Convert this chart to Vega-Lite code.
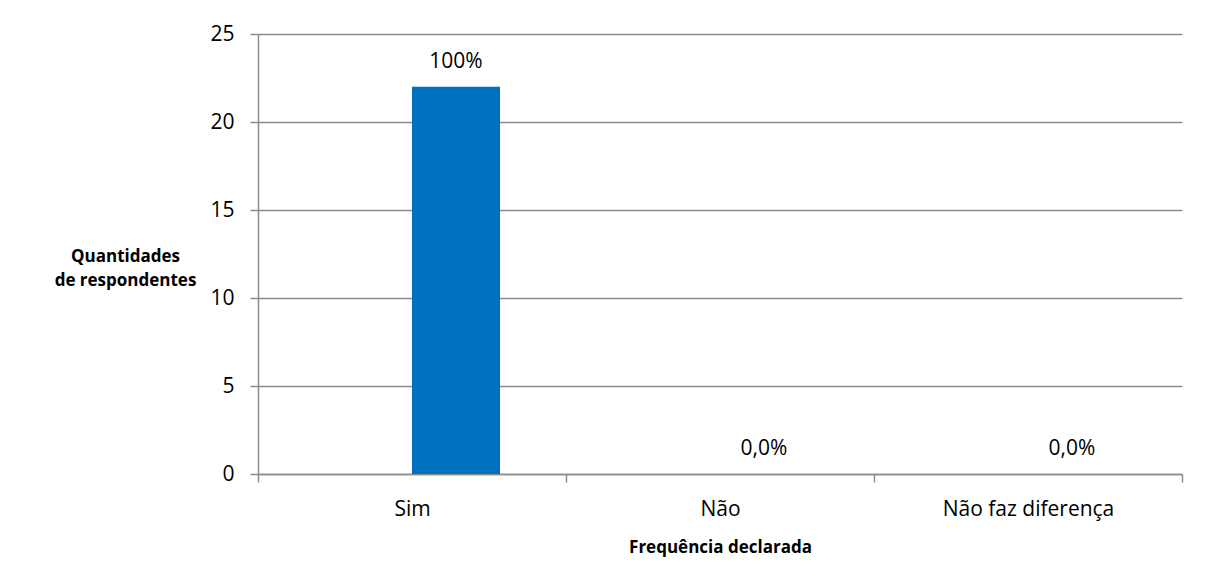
{
  "$schema": "https://vega.github.io/schema/vega-lite/v6.json",
  "width": 924,
  "height": 440,
  "autosize": "none",
  "padding": {"left": 258, "top": 34, "right": 28, "bottom": 110},
  "background": "white",
  "config": {
    "view": {"stroke": null},
    "font": "Open Sans",
    "axis": {
      "labelFont": "Open Sans",
      "labelFontSize": 21,
      "labelColor": "#000000",
      "titleFont": "Open Sans",
      "titleFontWeight": "bold",
      "titleFontSize": 17,
      "titleColor": "#000000",
      "domainColor": "#8c8c8c",
      "domainWidth": 1.5,
      "tickColor": "#8c8c8c",
      "tickWidth": 1.5,
      "gridColor": "#8c8c8c",
      "gridWidth": 1.5
    }
  },
  "data": {
    "values": [
      {"resposta": "Sim", "quantidade": 22, "rotulo": "100%"},
      {"resposta": "Não", "quantidade": 0, "rotulo": "0,0%"},
      {"resposta": "Não faz diferença", "quantidade": 0, "rotulo": "0,0%"}
    ]
  },
  "encoding": {
    "x": {
      "field": "resposta",
      "type": "nominal",
      "sort": ["Sim", "Não", "Não faz diferença"],
      "scale": {"paddingInner": 0, "paddingOuter": 0},
      "axis": {
        "title": "Frequência declarada",
        "titlePadding": 20,
        "labelAngle": 0,
        "labelPadding": 16,
        "tickBand": "extent",
        "tickSize": 8,
        "grid": false
      }
    },
    "y": {
      "field": "quantidade",
      "type": "quantitative",
      "scale": {"domain": [0, 25], "nice": false},
      "axis": {
        "values": [0, 5, 10, 15, 20, 25],
        "tickSize": 8,
        "labelPadding": 16,
        "grid": true,
        "title": ["Quantidades", "de respondentes"],
        "titleAngle": 0,
        "titleAlign": "center",
        "titleBaseline": "middle",
        "titleLineHeight": 24,
        "titleX": -133,
        "titleY": 222
      }
    }
  },
  "layer": [
    {
      "mark": {"type": "bar", "width": 88, "xOffset": 44, "color": "#0070C0"}
    },
    {
      "mark": {"type": "text", "xOffset": 44, "baseline": "bottom", "dy": -15, "fontSize": 21, "color": "#000000"},
      "encoding": {"text": {"field": "rotulo"}}
    }
  ]
}
